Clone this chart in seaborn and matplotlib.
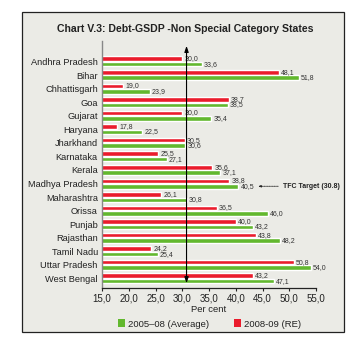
import matplotlib
matplotlib.use("Agg")
import matplotlib.pyplot as plt
import matplotlib.patches as mpatches
import seaborn as sns
import pandas as pd

states = ["Andhra Pradesh", "Bihar", "Chhattisgarh", "Goa", "Gujarat", "Haryana",
          "Jharkhand", "Karnataka", "Kerala", "Madhya Pradesh", "Maharashtra",
          "Orissa", "Punjab", "Rajasthan", "Tamil Nadu", "Uttar Pradesh", "West Bengal"]
avg_0508 = [33.6, 51.8, 23.9, 38.5, 35.4, 22.5, 30.6, 27.1, 37.1, 40.5, 30.8,
            46.0, 43.2, 48.2, 25.4, 54.0, 47.1]
re_0809 = [30.0, 48.1, 19.0, 38.7, 30.0, 17.8, 30.5, 25.5, 35.6, 38.8, 26.1,
           36.5, 40.0, 43.8, 24.2, 50.8, 43.2]
series_names = ["2005\u201308 (Average)", "2008-09 (RE)"]
xticks = [15, 20, 25, 30, 35, 40, 45, 50, 55]
tfc_target = 30.8

green = "#62b82e"
red = "#ea1c2c"
bg = "#ebebe6"

df = pd.DataFrame({
    "State": states * 2,
    "Value": re_0809 + avg_0508,
    "Period": [series_names[1]] * len(states) + [series_names[0]] * len(states),
})

sns.set_style("white")
plt.rcParams["font.family"] = ["Liberation Sans", "DejaVu Sans"]

fig = plt.figure(figsize=(3.55, 3.41), dpi=100)
fig.patch.set_facecolor("white")
frame = mpatches.Rectangle((22 / 355, 1 - 332 / 341), (344 - 22) / 355, (332 - 12) / 341,
                           transform=fig.transFigure, facecolor=bg, edgecolor="#222222",
                           linewidth=0.9, zorder=-10)
fig.patches.append(frame)

ax = fig.add_axes([102 / 355, 1 - 287.7 / 341, (316 - 102) / 355, (287.7 - 41) / 341])
ax.set_facecolor("none")
ax.set_zorder(5)

sns.barplot(data=df, y="State", x="Value", hue="Period",
            hue_order=[series_names[1], series_names[0]],
            palette=[red, green], orient="h", width=0.8, gap=0.16,
            legend=False, ax=ax, saturation=1)

for cont, vals in zip(ax.containers, [re_0809, avg_0508]):
    ax.bar_label(cont, labels=[f"{v:.1f}".replace(".", ",") for v in vals],
                 padding=1.5, fontsize=5, color="#333333")

ax.set_xlim(15, 55)
ax.set_ylim(16.68, -1.51)
ax.set_xticks(xticks)
ax.set_xticklabels([f"{t:.1f}".replace(".", ",") for t in xticks], fontsize=7, color="#222222")
ax.tick_params(axis="x", direction="out", length=2.5, width=0.8, pad=1.5, color="#222222", bottom=True)
ax.tick_params(axis="y", length=0, pad=3, labelsize=6.7, labelcolor="#222222")
ax.set_xlabel("")
ax.set_ylabel("")
for s in ["top", "right"]:
    ax.spines[s].set_visible(False)
ax.spines["left"].set_color("#888888")
ax.spines["left"].set_linewidth(1.0)
ax.spines["bottom"].set_color("#222222")
ax.spines["bottom"].set_linewidth(0.9)

# TFC target vertical double arrow
ax.annotate("", xy=(tfc_target, -1.15), xytext=(tfc_target, 16.35),
            arrowprops=dict(arrowstyle="<|-|>,head_length=0.35,head_width=0.12",
                            color="black", lw=0.8, shrinkA=0, shrinkB=0))
ax.annotate("TFC Target (30.8)", xy=(44.2, 9.2), xytext=(48.8, 9.2),
            fontsize=5, fontweight="bold", va="center", ha="left", color="#222222",
            annotation_clip=False,
            arrowprops=dict(arrowstyle="-|>,head_length=0.3,head_width=0.12",
                            color="#222222", lw=0.6, linestyle=(0, (1.0, 1.0)),
                            shrinkA=1, shrinkB=0))

fig.text(185 / 355, 1 - 29 / 341, "Chart V.3: Debt-GSDP -Non Special Category States",
         ha="center", va="center", fontsize=7.6, fontweight="bold", color="#222222")
fig.text(209 / 355, 1 - 309 / 341, "Per cent", ha="center", va="center",
         fontsize=6.8, color="#222222")

handles = [mpatches.Patch(facecolor=green, edgecolor="none", label=series_names[0]),
           mpatches.Patch(facecolor=red, edgecolor="none", label=series_names[1])]
fig.legend(handles=handles, loc="center", bbox_to_anchor=(209.5 / 355, 1 - 324 / 341),
           ncol=2, frameon=False, fontsize=6.8, handlelength=0.75, handleheight=0.9,
           handletextpad=0.3, columnspacing=2.6, borderpad=0, labelcolor="#222222")

fig.savefig("out.png", dpi=100, facecolor="white")
